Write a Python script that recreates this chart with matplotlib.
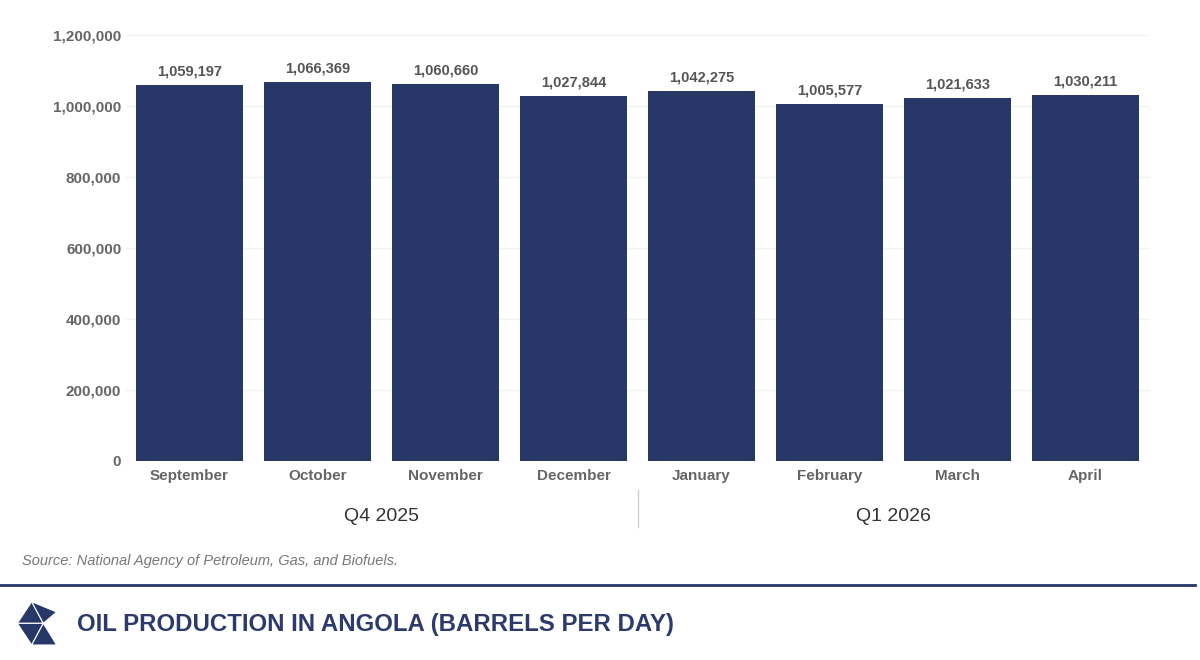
import matplotlib.pyplot as plt
from matplotlib.patches import Polygon
from matplotlib.lines import Line2D

plt.rcParams['font.family'] = ['Liberation Sans', 'DejaVu Sans']

months = ['September', 'October', 'November', 'December',
          'January', 'February', 'March', 'April']
production = [1059197, 1066369, 1060660, 1027844,
              1042275, 1005577, 1021633, 1030211]
quarters = ['Q4 2025', 'Q1 2026']
quarter_size = [4, 4]
yticks = [0, 200000, 400000, 600000, 800000, 1000000, 1200000]

navy = '#263768'
W, H = 1200, 660

fig = plt.figure(figsize=(12, 6.6), dpi=100)
ax = fig.add_axes([125.5 / W, 1 - 461 / H, 1024 / W, 426 / H])

x = range(len(months))
bars = ax.bar(x, production, width=0.84, color=navy, zorder=2)
for b, v in zip(bars, production):
    ax.annotate(f'{v:,}', (b.get_x() + b.get_width() / 2, v),
                xytext=(0, 5), textcoords='offset points',
                ha='center', va='bottom', fontsize=10.5,
                fontweight='bold', color='#555555')

ax.set_xlim(-0.5, len(months) - 0.5)
ax.set_ylim(0, 1200000)
ax.set_yticks(yticks)
ax.set_yticklabels([f'{t:,}' for t in yticks])
ax.set_xticks(list(x))
ax.set_xticklabels(months)
ax.tick_params(axis='both', length=0, labelsize=11, labelcolor='#666666')
ax.tick_params(axis='y', pad=3)
ax.tick_params(axis='x', pad=6)
for lab in ax.get_xticklabels() + ax.get_yticklabels():
    lab.set_fontweight('bold')
ax.yaxis.grid(True, color='#f2f2f2', linewidth=1, zorder=0)
for s in ax.spines.values():
    s.set_visible(False)

# quarter group labels
start = 0
for q, n in zip(quarters, quarter_size):
    ax.text(start + (n - 1) / 2, -0.13, q, transform=ax.get_xaxis_transform(),
            ha='center', va='center', fontsize=14, color='#333333')
    start += n
ax.add_line(Line2D([3.5, 3.5], [-0.068, -0.155], transform=ax.get_xaxis_transform(),
                   color='#cccccc', linewidth=1, clip_on=False))

# footer
fig.text(22 / W, 1 - 561 / H, 'Source: National Agency of Petroleum, Gas, and Biofuels.',
         fontsize=10.5, style='italic', color='#777777', ha='left', va='center')
fig.add_artist(Line2D([0, 1195 / W], [1 - 585 / H, 1 - 585 / H],
                      color=navy, linewidth=2))
fig.text(77 / W, 1 - 624 / H, 'OIL PRODUCTION IN ANGOLA (BARRELS PER DAY)',
         fontsize=17.3, fontweight='bold', color='#2c3b6c', ha='left', va='center')


# logo made of triangles
def zp(zx, zy):
    return ((10 + zx / 3) / W, 1 - (590 + zy / 3) / H)


tris = [
    [(22, 100), (65, 35), (100, 100)],
    [(65, 35), (140, 66), (100, 100)],
    [(22, 100), (100, 100), (65, 165)],
    [(100, 100), (140, 165), (65, 165)],
]
for t in tris:
    fig.add_artist(Polygon([zp(*p) for p in t], closed=True, facecolor=navy,
                           edgecolor='white', linewidth=0.8,
                           transform=fig.transFigure))

fig.savefig('out.png', dpi=100)
